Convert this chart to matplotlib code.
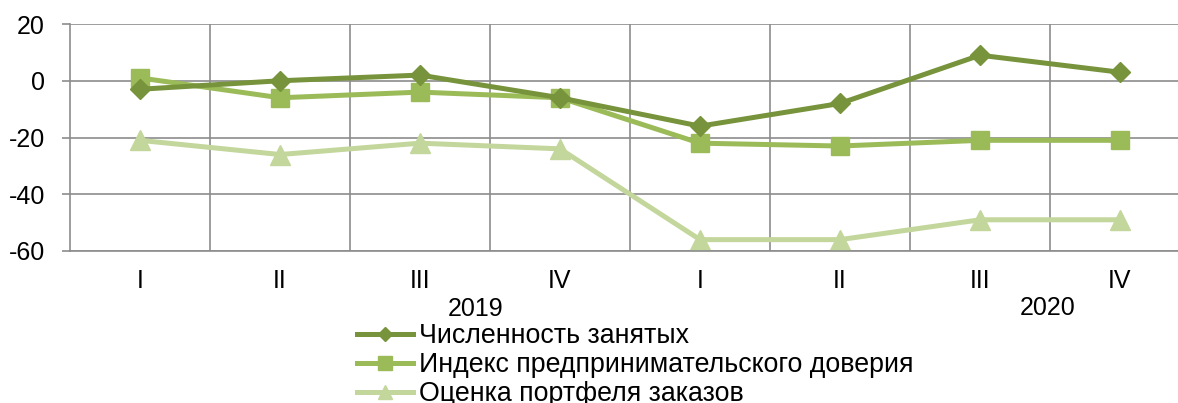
import matplotlib
matplotlib.use("Agg")
import matplotlib.pyplot as plt
import numpy as np

plt.rcParams['font.family'] = ['Liberation Sans', 'DejaVu Sans']
plt.rcParams['axes.unicode_minus'] = False

quarters = ["I", "II", "III", "IV", "I", "II", "III", "IV"]
years = ["2019", "2020"]
employment = [-3, 0, 2, -6, -16, -8, 9, 3]
confidence = [1, -6, -4, -6, -22, -23, -21, -21]
orders = [-21, -26, -22, -24, -56, -56, -49, -49]
series_names = ["Численность занятых",
                "Индекс предпринимательского доверия",
                "Оценка портфеля заказов"]

W, H = 1178, 403
fig = plt.figure(figsize=(W / 100, H / 100), dpi=100)
ax = fig.add_axes([70 / W, 152 / H, 1120 / W, 227 / H])

x = np.arange(len(quarters))
fs = 18
leg_fs = 19.3
grid_c = '#8c8c8c'

ax.plot(x, employment, color='#77933C', lw=3.6, marker='D', ms=10,
        label=series_names[0], zorder=4)
ax.plot(x, confidence, color='#9BBB59', lw=3.6, marker='s', ms=13.5,
        label=series_names[1], zorder=3)
ax.plot(x, orders, color='#C3D69B', lw=3.6, marker='^', ms=14,
        label=series_names[2], zorder=2)

ax.set_xlim(-0.5, 7.5)
ax.set_ylim(-60, 20)
ax.set_yticks([-60, -40, -20, 0, 20])
ax.set_xticks(x)
ax.set_xticklabels(quarters)
ax.set_xticks(np.arange(0.5, 7.5, 1), minor=True)

ax.grid(axis='y', which='major', color=grid_c, lw=1.2)
ax.grid(axis='x', which='minor', color=grid_c, lw=1.2)
ax.set_axisbelow(True)

for s in ['top', 'right']:
    ax.spines[s].set_visible(False)
ax.spines['left'].set_color(grid_c)
ax.spines['left'].set_linewidth(1.2)
ax.spines['bottom'].set_color(grid_c)
ax.spines['bottom'].set_linewidth(1.2)

ax.tick_params(axis='y', which='major', length=6, width=1.2, color=grid_c,
               labelsize=fs, pad=12)
ax.tick_params(axis='x', which='both', length=0, labelsize=fs, pad=13)

# year labels
ax.text(476, H - 309, years[0], transform=None, fontsize=fs,
        ha='center', va='center')
ax.text(1048, H - 308, years[1], transform=None, fontsize=fs,
        ha='center', va='center')

leg = fig.legend(loc='upper left', bbox_to_anchor=(357 / W, (H - 323) / H),
                 frameon=False, fontsize=leg_fs, handlelength=2.1,
                 handletextpad=0.2, labelspacing=0.12, borderpad=0,
                 borderaxespad=0, markerscale=0.7)

fig.savefig('out.png', dpi=100)
